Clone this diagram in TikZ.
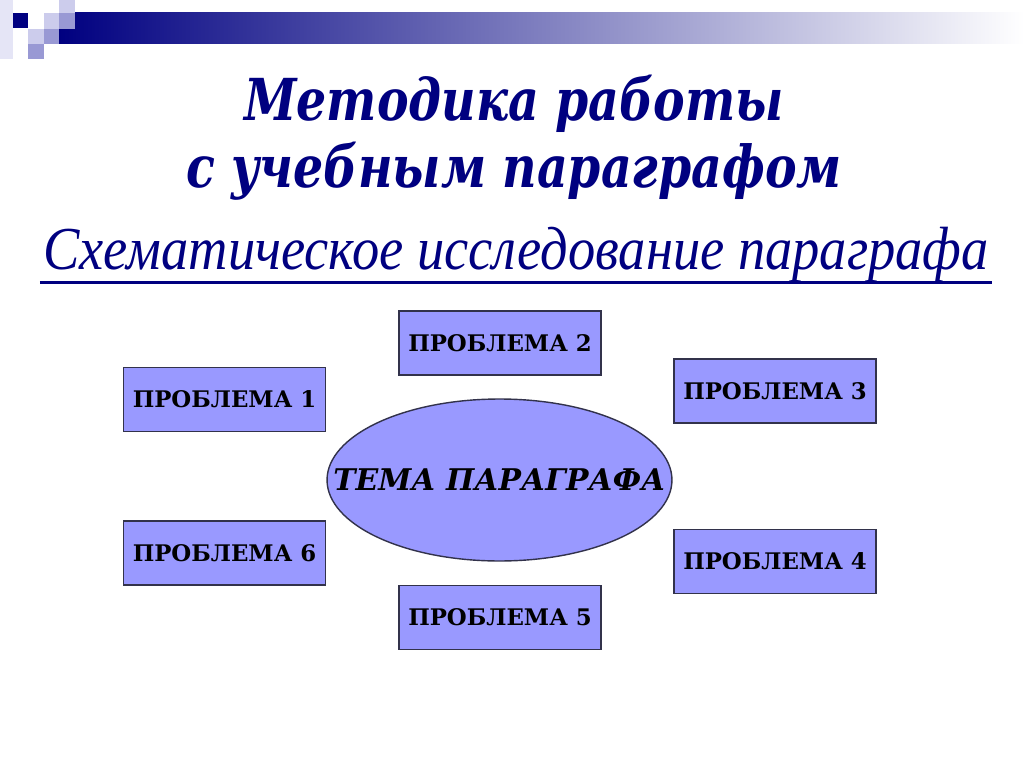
\documentclass[tikz,border=0pt]{standalone}
\usepackage{fontspec}
\setmainfont{DejaVu Serif}
\newfontfamily\subfont{Liberation Serif}
\usetikzlibrary{shapes.geometric}
\definecolor{navy}{RGB}{0,0,128}
\definecolor{greyblue}{RGB}{165,165,192}
\definecolor{boxblue}{RGB}{153,153,255}
\definecolor{lav}{RGB}{204,204,236}
\definecolor{midlav}{RGB}{153,153,212}
\definecolor{edgegray}{RGB}{50,50,75}

\begin{document}
\begin{tikzpicture}[x=0.02cm,y=-0.02cm,
  problem/.style={draw=edgegray,fill=boxblue,line width=0.8pt,minimum width=4.04cm,
    minimum height=1.28cm,inner sep=0pt,font=\bfseries\fontsize{13}{15}\selectfont},
  theme/.style={ellipse,draw=edgegray,fill=boxblue,line width=0.8pt,minimum width=6.9cm,
    minimum height=3.24cm,inner xsep=-30pt,inner ysep=0pt,
    font=\bfseries\itshape\fontsize{17}{20}\selectfont}]
  \useasboundingbox (0,0) rectangle (1024,767);
  \fill[white] (0,0) rectangle (1024,767);

  \shade[left color=navy,middle color=greyblue,right color=white] (59,13) rectangle (1024,44);
  \fill[lav!50] (0,0) rectangle (13,59);
  \fill[lav] (59,0) rectangle (75,13);
  \fill[navy] (13,13) rectangle (28,28);
  \fill[lav] (44,13) rectangle (59,29);
  \fill[midlav] (59,13) rectangle (75,29);
  \fill[lav] (28,29) rectangle (44,44);
  \fill[midlav] (44,29) rectangle (59,44);
  \fill[midlav] (28,44) rectangle (44,59);

  \node[text=navy,font=\bfseries\itshape\fontsize{27}{38}\selectfont,align=center] (title) at (514,138)
    {\scalebox{1}[1.22]{Методика работы}\\\scalebox{1}[1.22]{с учебным параграфом}};
  \node[text=navy,font=\subfont\itshape\fontsize{31}{36}\selectfont,inner sep=0pt] (sub) at (516,255)
    {\scalebox{1}[1.12]{Схематическое исследование параграфа}};
  \draw[navy,line width=1.5pt] ([shift={(-3,13)}]sub.base west) -- ([shift={(3,13)}]sub.base east);

  \node[theme] (tema) at (499.5,480) {ТЕМА ПАРАГРАФА};
  \node[problem] (p1) at (224.5,399.5) {ПРОБЛЕМА 1};
  \node[problem] (p2) at (500,343) {ПРОБЛЕМА 2};
  \node[problem] (p3) at (775,391) {ПРОБЛЕМА 3};
  \node[problem] (p4) at (775,561.5) {ПРОБЛЕМА 4};
  \node[problem] (p5) at (500,617.5) {ПРОБЛЕМА 5};
  \node[problem] (p6) at (224.5,553) {ПРОБЛЕМА 6};
\end{tikzpicture}
\end{document}
